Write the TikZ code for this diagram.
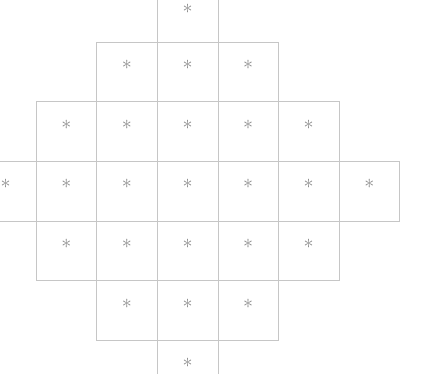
\documentclass[tikz,border=0pt]{standalone}
\begin{document}
\begin{tikzpicture}[x=1pt,y=-1pt,
    cellline/.style={draw=gray!45,line width=0.6pt},
    asterisk/.style={text=gray!90,inner sep=0pt,scale=2.0}]
        % 画布
        \useasboundingbox (0,0) rectangle (425,373);
        \clip (0,0) rectangle (425,373);
        
        % 各行格子：行号/格数
        \foreach \r/\n in {1/1,2/3,3/5,4/7,5/5,6/3,7/1}{
            \pgfmathtruncatemacro{\first}{4-(\n-1)/2}
            \foreach \k in {1,...,\n}{
                \pgfmathtruncatemacro{\c}{\first+\k-1}
                \draw[cellline] ({-24.6+60.6*(\c-1)},{-17.6+59.6*(\r-1)}) rectangle ++(60.6,59.6);
                \node[asterisk] (s-\r-\c) at ({5.7+60.6*(\c-1)},{max(9,5.5+59.6*(\r-1))}) {$\ast$};
            }
        }
    \end{tikzpicture}
\end{document}
